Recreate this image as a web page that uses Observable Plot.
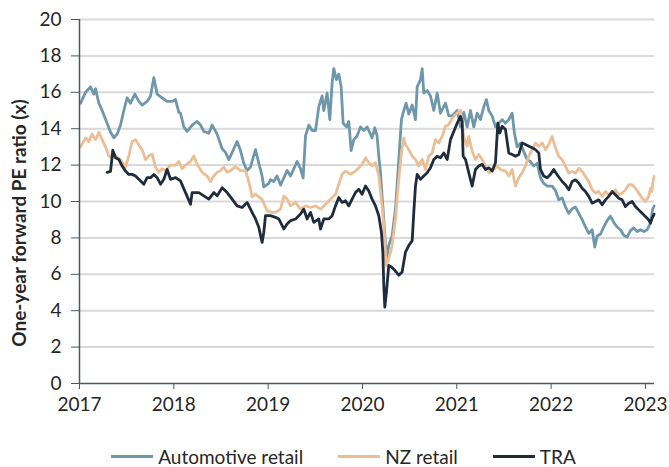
<!DOCTYPE html>
<html>
<head>
<meta charset="utf-8">
<script src="https://cdn.jsdelivr.net/npm/d3@7"></script>
<script src="https://cdn.jsdelivr.net/npm/@observablehq/plot@0.6"></script>
<style>
  html, body { margin: 0; padding: 0; background: #fff; }
  body { position: relative; width: 669px; height: 467px; font-family: Lato, "Noto Sans", sans-serif; color: #262626; overflow: hidden; }
  #chart svg { display: block; }
  #ylabel { position: absolute; left: 18px; top: 223px; transform: translate(-50%, -50%) rotate(-90deg); white-space: nowrap; font-weight: 700; font-size: 19px; line-height: 1; }
  #legend { position: absolute; top: 445px; left: 0; width: 669px; display: flex; justify-content: center; box-sizing: border-box; padding-left: 18px; font-size: 19px; }
  .item { display: flex; align-items: center; margin: 0 17.5px; }
  .sw { width: 42px; height: 3px; margin-right: 5px; }
</style>
</head>
<body>
<div id="chart"></div>
<div id="ylabel"></div>
<div id="legend"></div>
<script>
const seriesNames = ["Automotive retail", "NZ retail", "TRA"];
const seriesColors = ["#6f97ab", "#ecbe96", "#1f2c3b"];
const yearTicks = [2017, 2018, 2019, 2020, 2021, 2022, 2023];
const valueTicks = [0, 2, 4, 6, 8, 10, 12, 14, 16, 18, 20];
const yLabel = "One-year forward PE ratio (x)";

// [decimal year, one-year forward PE]
const automotive = [
[2017.011,15.4],[2017.064,16.0],[2017.117,16.3],[2017.152,15.9],[2017.170,16.2],[2017.205,15.4],[2017.240,15.0],[2017.293,14.3],[2017.329,13.8],[2017.364,13.5],[2017.399,13.7],[2017.435,14.2],[2017.470,15.0],[2017.505,15.7],[2017.541,15.4],[2017.587,15.9],[2017.629,15.5],[2017.664,15.3],[2017.717,15.5],[2017.753,15.8],[2017.788,16.8],[2017.823,15.9],[2017.876,15.7],[2017.929,15.5],[2017.982,15.5],[2018.018,15.6],[2018.053,14.9],
[2018.071,14.85],[2018.106,14.1],[2018.141,13.85],[2018.194,14.2],[2018.247,14.4],[2018.283,14.2],[2018.318,13.85],[2018.371,13.75],[2018.406,14.2],[2018.459,13.7],[2018.512,12.9],[2018.548,12.7],[2018.583,12.3],[2018.636,12.9],[2018.671,13.3],[2018.707,12.8],[2018.742,12.1],[2018.777,11.7],[2018.813,11.9],[2018.866,12.85],[2018.901,12.1],[2018.936,11.4],[2018.954,10.8],[2019.007,11.0],
[2019.025,11.2],[2019.060,11.1],[2019.095,11.4],[2019.131,10.9],[2019.166,11.3],[2019.201,11.7],[2019.237,11.4],[2019.272,11.8],[2019.307,12.2],[2019.343,11.8],[2019.371,11.3],[2019.396,13.6],[2019.431,14.2],[2019.466,13.9],[2019.502,13.9],[2019.537,15.2],[2019.572,15.8],[2019.590,15.0],[2019.625,15.95],[2019.654,14.5],[2019.678,16.5],[2019.696,17.3],[2019.724,16.7],[2019.749,17.0],[2019.774,16.3],[2019.795,14.3],[2019.830,14.1],[2019.855,14.4],[2019.880,12.8],[2019.908,13.4],[2019.943,13.6],[2019.979,14.1],[2020.014,13.9],[2020.049,14.1],
[2020.067,13.9],[2020.102,13.5],[2020.131,14.05],[2020.155,13.6],[2020.173,12.5],[2020.191,11.6],[2020.208,10.3],[2020.226,9.05],[2020.244,7.6],[2020.251,6.7],[2020.279,7.6],[2020.314,8.1],[2020.350,9.6],[2020.385,12.3],[2020.413,14.5],[2020.438,15.0],[2020.463,15.4],[2020.491,14.8],[2020.527,15.3],[2020.562,14.5],[2020.580,16.3],[2020.615,16.7],[2020.633,17.3],[2020.650,15.95],[2020.686,16.1],[2020.721,15.8],[2020.756,15.0],[2020.792,15.95],[2020.827,14.85],[2020.880,15.4],[2020.915,14.7],[2020.951,14.7],[2021.004,15.0],
[2021.039,14.1],[2021.074,14.9],[2021.110,14.1],[2021.145,15.0],[2021.180,14.1],[2021.216,14.85],[2021.251,14.5],[2021.286,15.2],[2021.314,15.6],[2021.339,15.0],[2021.375,14.7],[2021.410,14.1],[2021.445,14.3],[2021.481,14.5],[2021.516,14.3],[2021.551,14.5],[2021.587,14.85],[2021.611,13.75],[2021.640,13.0],[2021.675,13.2],[2021.710,12.75],[2021.746,12.3],[2021.781,12.2],[2021.816,11.95],[2021.852,12.1],[2021.887,11.3],[2021.922,11.0],[2021.958,10.85],[2022.011,10.85],[2022.046,10.6],
[2022.081,10.1],[2022.117,10.2],[2022.152,9.7],[2022.187,9.35],[2022.223,9.6],[2022.258,9.7],[2022.293,9.35],[2022.329,9.0],[2022.364,8.6],[2022.399,8.25],[2022.435,8.45],[2022.463,7.5],[2022.488,8.1],[2022.523,8.2],[2022.558,8.6],[2022.594,8.95],[2022.629,9.2],[2022.664,8.85],[2022.700,8.6],[2022.735,8.45],[2022.770,8.15],[2022.806,8.05],[2022.841,8.4],[2022.876,8.55],[2022.912,8.35],[2022.947,8.45],[2022.982,8.35],[2023.018,8.45],[2023.053,8.8],[2023.075,9.55],[2023.092,9.75]
];

const nzRetail = [
[2017.011,13.0],[2017.064,13.5],[2017.099,13.3],[2017.134,13.7],[2017.170,13.4],[2017.205,13.8],[2017.240,13.4],[2017.276,13.0],[2017.311,12.5],[2017.346,12.4],[2017.382,12.5],[2017.435,12.3],[2017.488,11.9],[2017.523,12.5],[2017.558,13.3],[2017.594,13.4],[2017.629,13.1],[2017.664,12.85],[2017.700,12.3],[2017.735,12.5],[2017.770,12.6],[2017.806,11.9],[2017.841,11.6],[2017.876,11.8],[2017.912,11.7],[2017.965,12.0],[2018.018,12.0],
[2018.053,12.2],[2018.088,11.8],[2018.124,12.0],[2018.177,12.2],[2018.212,12.5],[2018.247,12.05],[2018.300,11.6],[2018.353,11.4],[2018.389,11.1],[2018.424,11.4],[2018.459,11.6],[2018.495,11.7],[2018.530,11.9],[2018.565,11.6],[2018.601,11.7],[2018.654,11.9],[2018.707,11.7],[2018.760,11.7],[2018.795,11.1],[2018.830,10.25],[2018.866,10.4],[2018.901,10.25],[2018.936,10.1],[2018.989,9.5],
[2019.042,9.4],[2019.078,9.4],[2019.131,9.58],[2019.166,10.3],[2019.201,10.13],[2019.237,9.76],[2019.290,9.95],[2019.343,9.58],[2019.396,9.76],[2019.449,9.67],[2019.502,9.76],[2019.555,9.58],[2019.608,9.85],[2019.661,10.13],[2019.714,10.4],[2019.749,10.95],[2019.784,11.5],[2019.820,11.67],[2019.873,11.5],[2019.926,11.67],[2019.961,11.85],[2019.996,12.04],
[2020.032,12.4],[2020.067,12.13],[2020.102,11.95],[2020.138,12.13],[2020.173,11.4],[2020.208,9.76],[2020.226,8.67],[2020.251,6.49],[2020.279,6.85],[2020.314,7.58],[2020.350,9.04],[2020.378,10.85],[2020.413,12.67],[2020.438,13.49],[2020.456,13.13],[2020.491,12.85],[2020.527,12.49],[2020.562,12.31],[2020.597,11.95],[2020.633,12.31],[2020.668,11.76],[2020.703,12.49],[2020.739,12.67],[2020.774,13.4],[2020.809,13.22],[2020.845,13.58],[2020.880,14.13],[2020.915,14.22],[2020.951,14.58],[2020.986,14.76],[2021.021,14.95],
[2021.039,15.0],[2021.074,13.58],[2021.110,13.04],[2021.127,13.58],[2021.163,12.76],[2021.198,12.31],[2021.233,12.58],[2021.269,12.31],[2021.304,11.95],[2021.339,11.58],[2021.375,11.67],[2021.428,11.95],[2021.463,11.76],[2021.516,11.67],[2021.551,11.4],[2021.587,11.76],[2021.622,10.85],[2021.657,11.31],[2021.693,11.58],[2021.728,11.95],[2021.763,12.49],[2021.799,12.85],[2021.834,13.22],[2021.869,13.04],[2021.905,13.22],[2021.940,12.85],[2021.975,13.13],[2022.011,13.58],[2022.046,12.95],
[2022.081,12.48],[2022.117,12.29],[2022.152,11.93],[2022.187,11.56],[2022.223,11.65],[2022.258,11.56],[2022.293,11.83],[2022.329,11.65],[2022.364,11.38],[2022.399,11.1],[2022.435,10.64],[2022.470,10.46],[2022.505,10.55],[2022.541,10.28],[2022.576,10.55],[2022.611,10.37],[2022.647,10.46],[2022.682,10.64],[2022.717,10.37],[2022.753,10.46],[2022.788,10.64],[2022.823,10.92],[2022.859,10.92],[2022.894,10.73],[2022.929,10.46],[2022.965,10.18],[2023.000,10.0],[2023.035,10.28],[2023.053,10.73],[2023.068,10.55],[2023.080,11.1],[2023.092,11.38]
];

const tra = [
[2017.293,11.6],[2017.329,11.65],[2017.353,12.82],[2017.382,12.4],[2017.417,12.31],[2017.452,11.95],[2017.488,11.67],[2017.523,11.49],[2017.558,11.49],[2017.594,11.4],[2017.629,11.22],[2017.682,10.95],[2017.717,11.31],[2017.753,11.31],[2017.788,11.49],[2017.823,11.31],[2017.859,10.95],[2017.894,11.22],[2017.929,11.76],[2017.965,11.22],
[2018.018,11.31],[2018.071,11.13],[2018.124,10.49],[2018.177,9.85],[2018.194,10.49],[2018.265,10.49],[2018.318,10.31],[2018.371,10.13],[2018.424,10.49],[2018.459,10.31],[2018.512,10.76],[2018.565,10.49],[2018.618,10.13],[2018.671,9.76],[2018.724,9.67],[2018.777,9.95],[2018.830,9.4],[2018.866,9.04],[2018.901,8.58],[2018.936,7.75],[2018.954,8.31],[2018.972,9.22],
[2019.025,9.22],[2019.078,9.13],[2019.113,9.04],[2019.166,8.49],[2019.201,8.76],[2019.237,8.95],[2019.290,9.04],[2019.343,9.31],[2019.378,9.58],[2019.413,9.04],[2019.449,9.4],[2019.484,8.85],[2019.537,9.04],[2019.555,8.49],[2019.590,9.04],[2019.643,9.04],[2019.678,9.22],[2019.714,9.76],[2019.749,10.22],[2019.784,9.95],[2019.820,10.04],[2019.855,9.76],[2019.890,10.13],[2019.926,10.49],[2019.961,10.67],[2019.996,10.4],
[2020.032,10.85],[2020.067,10.58],[2020.102,10.13],[2020.138,9.76],[2020.173,9.22],[2020.201,8.31],[2020.216,7.22],[2020.226,5.4],[2020.237,4.2],[2020.254,5.04],[2020.279,6.49],[2020.307,6.4],[2020.343,6.22],[2020.385,5.95],[2020.420,6.13],[2020.456,7.22],[2020.491,7.58],[2020.527,7.85],[2020.544,9.4],[2020.562,10.85],[2020.580,11.49],[2020.615,11.22],[2020.650,11.4],[2020.686,11.58],[2020.721,11.85],[2020.756,12.31],[2020.792,12.49],[2020.827,12.4],[2020.862,12.67],[2020.898,12.31],[2020.933,13.4],[2020.968,13.85],[2021.004,14.3],[2021.039,14.67],[2021.057,14.4],[2021.067,12.5],[2021.092,12.31],
[2021.127,11.58],[2021.163,10.85],[2021.198,11.76],[2021.233,11.95],[2021.269,12.04],[2021.304,11.76],[2021.339,11.85],[2021.375,11.67],[2021.410,12.13],[2021.435,14.31],[2021.456,13.76],[2021.481,14.13],[2021.516,13.95],[2021.551,12.67],[2021.587,12.58],[2021.622,12.49],[2021.657,12.58],[2021.693,13.22],[2021.728,13.13],[2021.763,13.04],[2021.799,12.95],[2021.834,12.85],[2021.869,12.67],[2021.887,11.76],[2021.922,11.4],[2021.958,11.31],[2021.993,11.49],[2022.028,11.76],
[2022.064,11.47],[2022.117,11.1],[2022.152,10.92],[2022.187,10.64],[2022.223,11.1],[2022.258,11.19],[2022.293,11.01],[2022.329,10.73],[2022.364,10.55],[2022.399,10.28],[2022.435,9.91],[2022.470,10.0],[2022.505,10.09],[2022.541,9.82],[2022.576,10.09],[2022.611,10.28],[2022.647,10.55],[2022.682,10.37],[2022.717,10.18],[2022.753,10.09],[2022.788,9.72],[2022.823,9.91],[2022.859,10.0],[2022.894,9.72],[2022.929,9.54],[2022.965,9.36],[2023.000,9.17],[2023.035,8.99],[2023.053,8.81],[2023.071,9.08],[2023.092,9.3]
];

const seriesData = [automotive, nzRetail, tra];
const rows = seriesData.flatMap((s, i) => s.map(([year, pe]) => ({series: seriesNames[i], year, pe})));

const axisColor = "#4d5764";
const chart = Plot.plot({
  width: 669,
  height: 430,
  marginLeft: 79,
  marginRight: 15,
  marginTop: 19,
  marginBottom: 47,
  style: {fontFamily: "Lato, 'Noto Sans', sans-serif", fontSize: "19px", color: "#262626", background: "#fff"},
  x: {domain: [2017, 2023.096], ticks: yearTicks},
  y: {domain: [0, 20], ticks: valueTicks},
  color: {domain: seriesNames, range: seriesColors},
  marks: [
    Plot.gridY(valueTicks.filter(v => v > 0), {stroke: "#d9d9d9", strokeOpacity: 1, strokeWidth: 2}),
    Plot.axisY(valueTicks, {tickSize: 8, tickPadding: 10, stroke: axisColor, fontSize: 19, fill: "#262626", label: null}),
    Plot.axisX(yearTicks, {tickSize: 6, tickPadding: 8, stroke: axisColor, tickFormat: d => String(d), fontSize: 19, fill: "#262626", label: null}),
    Plot.line(rows, {x: "year", y: "pe", z: "series", stroke: "series", strokeWidth: 2.8, strokeLinejoin: "round", curve: "linear"}),
    Plot.ruleX([2017], {stroke: axisColor, strokeWidth: 1.5}),
    Plot.ruleY([0], {stroke: axisColor, strokeWidth: 1.5})
  ]
});
document.getElementById("chart").appendChild(chart);
document.getElementById("ylabel").textContent = yLabel;

const legend = document.getElementById("legend");
seriesNames.forEach((name, i) => {
  const item = document.createElement("div");
  item.className = "item";
  const sw = document.createElement("div");
  sw.className = "sw";
  sw.style.background = seriesColors[i];
  const t = document.createElement("span");
  t.textContent = name;
  item.appendChild(sw);
  item.appendChild(t);
  legend.appendChild(item);
});
</script>
</body>
</html>
